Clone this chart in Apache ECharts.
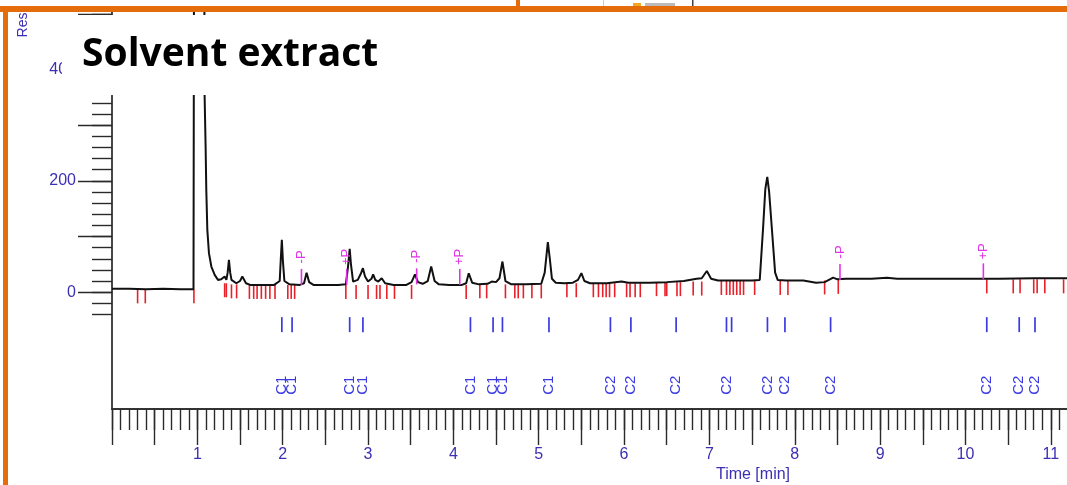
<!DOCTYPE html>
<html><head><meta charset="utf-8">
<script src="https://cdn.jsdelivr.net/npm/echarts@6/dist/echarts.min.js"></script>
<style>html,body{margin:0;padding:0;background:#fff;overflow:hidden}#c{width:1067px;height:485px}</style>
</head><body><div id="c"></div>
<script>
// ---- chromatogram trace (time in min, signal) ----
const traceTime = [0.00,0.20,0.40,0.60,0.80,0.955,0.962,1.080,1.085,1.097,1.105,1.117,1.136,1.164,1.203,1.242,1.28,1.32,1.34,1.355,1.37,1.385,1.40,1.457,1.50,1.527,1.57,1.62,1.75,1.90,1.965,1.978,1.99,2.003,2.02,2.08,2.20,2.25,2.28,2.31,2.36,2.50,2.65,2.74,2.765,2.785,2.80,2.825,2.88,2.915,2.94,2.965,3.00,3.04,3.06,3.085,3.12,3.16,3.20,3.30,3.45,3.51,3.55,3.585,3.64,3.70,3.74,3.78,3.83,3.95,4.10,4.15,4.18,4.22,4.30,4.40,4.45,4.50,4.54,4.575,4.61,4.68,4.85,5.03,5.07,5.107,5.13,5.155,5.20,5.30,5.40,5.46,5.50,5.535,5.60,5.80,5.97,6.05,6.30,6.50,6.70,6.85,6.91,6.97,7.02,7.10,7.30,7.50,7.59,7.63,7.655,7.678,7.70,7.73,7.77,7.80,7.90,8.10,8.25,8.35,8.45,8.50,8.60,8.90,9.08,9.20,9.60,10.00,10.40,10.80,11.19];
const traceSignal = [6,6,5,6,5,5,700,700,354,261,183,112,70,46,31,22,23,28,22,35,58,35,22,16,20,28,16,13,13,13,20,60,94,55,20,14,13,16,35,18,13,13,13,14,45,78,50,19,22,33,43,28,19,24,32,22,19,25,16,13,13,18,32,18,15,20,46,20,14,13,13,16,34,17,14,15,19,18,25,55,20,14,14,15,35,90,60,24,17,16,17,22,34,20,16,16,19,17,17,18,20,24,25,38,24,21,21,21,22,118,185,207,180,118,35,22,21,21,17,18,26,23,24,24,26,24,24,24,24,25,25];

// ---- integration event marks (red) ----
const eventTimes = [0.30,0.39,0.96,1.32,1.34,1.40,1.46,1.61,1.66,1.70,1.75,1.80,1.85,1.91,2.06,2.10,2.14,2.74,2.86,3.00,3.10,3.14,3.22,3.31,3.51,4.15,4.31,4.39,4.61,4.72,4.76,4.82,4.92,5.03,5.33,5.44,5.64,5.70,5.75,5.79,5.83,5.89,6.03,6.07,6.13,6.19,6.38,6.48,6.50,6.62,6.66,6.81,6.91,7.14,7.20,7.24,7.28,7.32,7.36,7.40,7.53,7.83,7.92,8.35,8.51,10.25,10.56,10.64,10.80,10.84,10.93,11.15];
const eventBase = [5,5,5,16,16,14,14,13,13,13,13,13,13,13,13,13,13,13,13,13,13,13,13,13,13,13,14,14,14,14,14,14,14,14,16,16,16,16,16,16,16,16,16,16,16,16,18,18,18,18,18,19,19,20,20,20,20,20,20,20,20,20,20,21,22,23,23,23,23,23,23,23];

// ---- identified peaks (blue) ----
const peakTimes = [1.99,2.11,2.785,2.94,4.20,4.465,4.575,5.12,5.84,6.08,6.61,7.20,7.26,7.68,7.885,8.42,10.25,10.63,10.815];
const peakNameTimes = [1.99,2.11,2.785,2.94,4.20,4.465,4.575,5.12,5.84,6.08,6.61,7.20,7.68,7.885,8.42,10.25,10.63,10.815];
const peakNames = ['C1','C1','C1','C1','C1','C1','C1','C1','C2','C2','C2','C2','C2','C2','C2','C2','C2','C2'];

// ---- P markers (magenta) ----
const pTimes = [2.22,2.75,3.57,4.075,8.53,10.21];
const pBase = [13,13,14,13,22,23];
const pText = ['-P','+P','-P','+P','-P','+P'];

// ---- axis ticks / labels ----
const xLabelValues = [1,2,3,4,5,6,7,8,9,10,11];
const yLabelValues = [0,200,400];
const xMinorTicks = []; for (let i = 0; i <= 111; i++) xMinorTicks.push(+(i / 10).toFixed(1));
const xMajorTicks = []; for (let i = 0; i <= 22; i++) xMajorTicks.push(i / 2);
const yMinorTicks = []; for (let v = -40; v <= 520; v += 20) yMinorTicks.push(v);
const yMajorTicks = [0,100,200,300,400,500];

const AXIS_BLUE = '#3b2fb4';
const MARK_BLUE = '#3a3ae0';
const RED = '#e8202a';
const MAGENTA = '#e033e6';
const ORANGE = '#e46c0a';

const chart = echarts.init(document.getElementById('c'));
const tickStyle = {color:'#2a2a2a', width:1.4};

chart.setOption({
  animation: false,
  backgroundColor: '#fff',
  grid: {left:112, right:0, top:0, bottom:76, containLabel:false},
  xAxis: [
    {type:'value', min:0, max:11.19, position:'bottom',
     axisLine:{show:true, onZero:false, lineStyle:{color:'#333', width:2}},
     axisTick:{show:true, length:21, customValues:xMinorTicks, lineStyle:tickStyle},
     axisLabel:{show:false}, splitLine:{show:false}},
    {type:'value', min:0, max:11.19, position:'bottom',
     axisLine:{show:false, onZero:false},
     axisTick:{show:true, length:36, customValues:xMajorTicks, lineStyle:tickStyle},
     axisLabel:{show:true, customValues:xLabelValues, margin:38, color:AXIS_BLUE, fontSize:16, fontFamily:'Liberation Sans'},
     splitLine:{show:false}}
  ],
  yAxis: [
    {type:'value', min:-210, max:525, position:'left',
     axisLine:{show:true, onZero:false, lineStyle:{color:'#333', width:1.8}},
     axisTick:{show:true, length:20, customValues:yMinorTicks, lineStyle:tickStyle},
     axisLabel:{show:false}, splitLine:{show:false}},
    {type:'value', min:-210, max:525, position:'left',
     axisLine:{show:false, onZero:false},
     axisTick:{show:true, length:34, customValues:yMajorTicks, lineStyle:tickStyle},
     axisLabel:{show:true, customValues:yLabelValues, margin:36, color:AXIS_BLUE, fontSize:16, fontFamily:'Liberation Sans'},
     splitLine:{show:false}}
  ],
  series: [
    {type:'custom', name:'events', coordinateSystem:'cartesian2d', xAxisIndex:0, yAxisIndex:0, z:2,
     data: eventTimes.map((t,i)=>[t, eventBase[i]]),
     renderItem: (p, api) => {
       const c = api.coord([api.value(0), api.value(1)]);
       return {type:'line', shape:{x1:c[0], y1:c[1], x2:c[0], y2:c[1]+14}, style:{stroke:RED, lineWidth:1.6}};
     }},
    {type:'line', name:'trace', xAxisIndex:0, yAxisIndex:0, z:4, clip:true,
     data: traceTime.map((t,i)=>[t, traceSignal[i]]),
     showSymbol:false, smooth:false,
     lineStyle:{color:'#111', width:2}},
    {type:'custom', name:'pmarks', coordinateSystem:'cartesian2d', xAxisIndex:0, yAxisIndex:0, z:5,
     data: pTimes.map((t,i)=>[t, pBase[i], i]),
     renderItem: (p, api) => {
       const c = api.coord([api.value(0), api.value(1)]);
       const i = api.value(2);
       return {type:'group', children:[
         {type:'line', shape:{x1:c[0], y1:c[1], x2:c[0], y2:c[1]-16}, style:{stroke:MAGENTA, lineWidth:1.6}},
         {type:'text', x:c[0], y:c[1]-28, rotation:Math.PI/2,
          style:{text:pText[i], x:0, y:0, align:'center', verticalAlign:'middle', fill:MAGENTA, fontSize:13, fontFamily:'Liberation Sans'}}
       ]};
     }},
    {type:'custom', name:'peakticks', coordinateSystem:'cartesian2d', xAxisIndex:0, yAxisIndex:0, z:5,
     data: peakTimes.map(t=>[t, 0]),
     renderItem: (p, api) => {
       const c = api.coord([api.value(0), api.value(1)]);
       return {type:'line', shape:{x1:c[0], y1:c[1]+25, x2:c[0], y2:c[1]+40}, style:{stroke:MARK_BLUE, lineWidth:1.7}};
     }},
    {type:'custom', name:'peaknames', coordinateSystem:'cartesian2d', xAxisIndex:0, yAxisIndex:0, z:5,
     data: peakNameTimes.map((t,i)=>[t, 0, i]),
     renderItem: (p, api) => {
       const c = api.coord([api.value(0), api.value(1)]);
       return {type:'text', x:c[0], y:c[1]+93, rotation:Math.PI/2,
         style:{text:peakNames[api.value(2)], x:0, y:0, align:'center', verticalAlign:'middle', fill:MARK_BLUE, fontSize:15, fontFamily:'Liberation Sans'}};
     }}
  ],
  graphic: [
    {type:'rect', z:100, shape:{x:0, y:0, width:1067, height:6}, style:{fill:'#fff'}},
    {type:'rect', z:100, shape:{x:62, y:15, width:1005, height:80}, style:{fill:'#fff'}},
    {type:'text', z:101, x:82, y:55, style:{text:'Solvent extract', fill:'#000', font:'bold 39px "Open Sans"', verticalAlign:'middle', align:'left'}},
    {type:'text', z:99, x:23, y:25, rotation:Math.PI/2, style:{text:'Res', fill:AXIS_BLUE, fontSize:14, fontFamily:'Liberation Sans', align:'center', verticalAlign:'middle'}},
    {type:'text', z:101, x:753, y:475, style:{text:'Time [min]', fill:AXIS_BLUE, fontSize:16, fontFamily:'Liberation Sans', align:'center', verticalAlign:'middle'}},
    {type:'rect', z:102, shape:{x:0, y:6, width:1067, height:6}, style:{fill:ORANGE}},
    {type:'rect', z:102, shape:{x:3, y:6, width:5, height:479}, style:{fill:ORANGE}},
    {type:'rect', z:102, shape:{x:516, y:0, width:4, height:6}, style:{fill:ORANGE}},
    {type:'rect', z:102, shape:{x:603, y:0, width:1, height:6}, style:{fill:'#ccc'}},
    {type:'rect', z:102, shape:{x:633, y:3, width:8, height:3}, style:{fill:'#f5a623'}},
    {type:'rect', z:102, shape:{x:645, y:3, width:30, height:3}, style:{fill:'#bbb'}},
    {type:'rect', z:102, shape:{x:692, y:0, width:1.5, height:6}, style:{fill:'#444'}}
  ]
});
</script>
</body></html>
